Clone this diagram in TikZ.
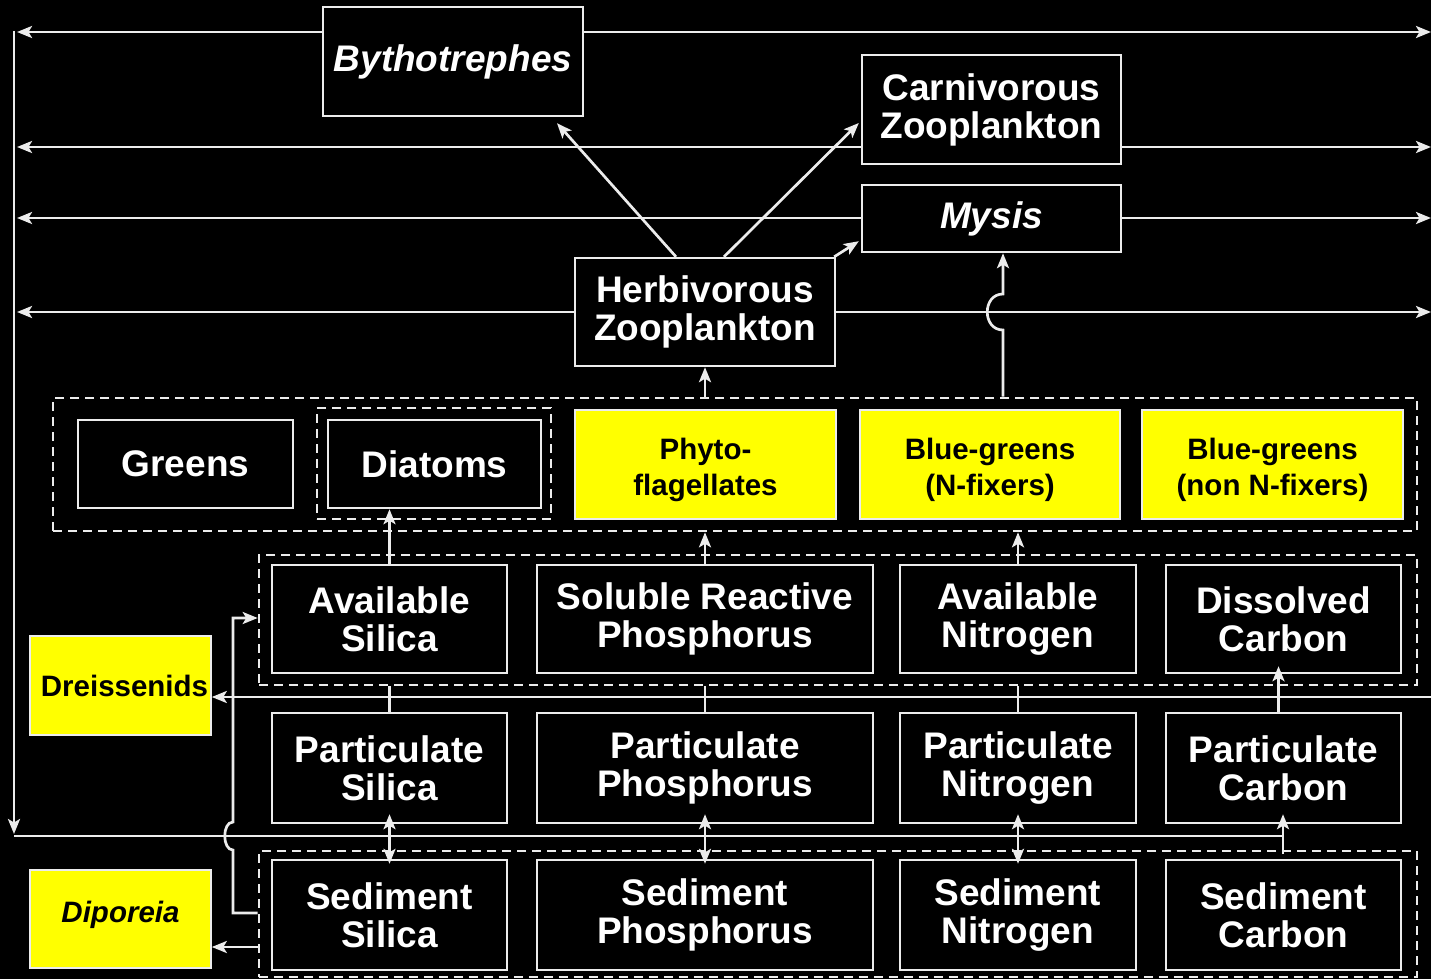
\documentclass[tikz,border=0pt]{standalone}
\usepackage{fontspec}
\setmainfont{Liberation Sans}
\usetikzlibrary{arrows.meta,calc}
\definecolor{ln}{HTML}{ECECEC}
\definecolor{yel}{HTML}{FFFF00}
\newcommand{\shiftlines}[2]{\raisebox{#1}[\height][\depth]{\begin{tabular}{@{}c@{}}#2\end{tabular}}}
\begin{document}
\begin{tikzpicture}[x=1pt,y=-1pt,
 wbox/.style={draw=ln,line width=2.4pt,fill=black,text=white,font=\bfseries\fontsize{37}{38}\selectfont,align=center,inner sep=0pt},
 ybox/.style={draw=ln,line width=1.6pt,fill=yel,text=black,font=\bfseries\fontsize{29.5}{36}\selectfont,align=center,inner sep=0pt},
 dbox/.style={draw=ln,line width=2.6pt,dash pattern=on 9pt off 6pt,inner sep=0pt},
 conn/.style={draw=ln,line width=2.7pt},
 tip/.tip={Stealth[length=15pt,width=12pt,inset=3.5pt]},
 arr/.style={conn,-tip},
 darr/.style={conn,tip-tip}]
\useasboundingbox (0,0) rectangle (1431,979);
\fill[black] (0,0) rectangle (1431,979);
% helper coordinates
\coordinate (yA) at (0,32);
\coordinate (yB) at (0,147);
\coordinate (yC) at (0,218);
\coordinate (yD) at (0,312);
\coordinate (yE) at (0,697);
\coordinate (yF) at (0,913);
\coordinate (yG) at (0,618);
\coordinate (yH) at (0,947);
\coordinate (leftx) at (17,0);
\coordinate (rightx) at (1431,0);
\coordinate (jx) at (1003,0);
\coordinate (vtop) at (14,31);
\coordinate (vbot) at (14,834);
\coordinate (busB) at (14,836);
\coordinate (busBend) at (1283,836);
% dashed groups
\node[dbox,minimum width=1364pt,minimum height=133pt] (phybox) at (735,464.5) {};
\node[dbox,minimum width=234pt,minimum height=111pt] (diabox) at (434,463.5) {};
\node[dbox,minimum width=1158pt,minimum height=130pt] (nutbox) at (838,620) {};
\node[dbox,minimum width=1158pt,minimum height=126pt] (sedbox) at (838,914) {};
% boxes
\node[wbox,minimum width=260pt,minimum height=109pt] (byth) at (453,61.5) {\itshape Bythotrephes};
\node[wbox,minimum width=259pt,minimum height=109pt] (carn) at (991.5,109.5) {Carnivorous\\Zooplankton};
\node[wbox,minimum width=259pt,minimum height=67pt] (mysis) at (991.5,218.5) {\itshape Mysis};
\node[wbox,minimum width=260pt,minimum height=108pt] (herb) at (705,312) {Herbivorous\\Zooplankton};
\node[wbox,minimum width=215pt,minimum height=88pt] (greens) at (185.5,464) {Greens};
\node[wbox,minimum width=213pt,minimum height=88pt] (diatoms) at (434.5,464) {Diatoms};
\node[ybox,minimum width=261pt,minimum height=109pt] (phyto) at (705.5,464.5) {\shiftlines{-6pt}{Phyto-\\flagellates}};
\node[ybox,minimum width=260pt,minimum height=109pt] (bgn) at (990,464.5) {\shiftlines{-6pt}{Blue-greens\\(N-fixers)}};
\node[ybox,minimum width=261pt,minimum height=109pt] (bgnn) at (1272.5,464.5) {\shiftlines{-6pt}{Blue-greens\\(non N-fixers)}};
\node[wbox,minimum width=235pt,minimum height=108pt] (avsi) at (389.5,619) {Available\\Silica};
\node[wbox,minimum width=336pt,minimum height=108pt] (srp) at (705,619) {Soluble Reactive\\Phosphorus};
\node[wbox,minimum width=236pt,minimum height=108pt] (avn) at (1018,619) {Available\\Nitrogen};
\node[wbox,minimum width=235pt,minimum height=108pt] (dc) at (1283.5,619) {Dissolved\\Carbon};
\node[wbox,minimum width=235pt,minimum height=110pt] (partsi) at (389.5,768) {Particulate\\Silica};
\node[wbox,minimum width=336pt,minimum height=110pt] (partp) at (705,768) {Particulate\\Phosphorus};
\node[wbox,minimum width=236pt,minimum height=110pt] (partn) at (1018,768) {Particulate\\Nitrogen};
\node[wbox,minimum width=235pt,minimum height=110pt] (partc) at (1283.5,768) {Particulate\\Carbon};
\node[wbox,minimum width=235pt,minimum height=110pt] (sedsi) at (389.5,915) {Sediment\\Silica};
\node[wbox,minimum width=336pt,minimum height=110pt] (sedp) at (705,915) {Sediment\\Phosphorus};
\node[wbox,minimum width=236pt,minimum height=110pt] (sedn) at (1018,915) {Sediment\\Nitrogen};
\node[wbox,minimum width=235pt,minimum height=110pt] (sedc) at (1283.5,915) {Sediment\\Carbon};
\node[ybox,minimum width=181pt,minimum height=99pt] (dreiss) at (120.5,685.5) {\shiftlines{-4pt}{\hspace*{8pt}Dreissenids}};
\node[ybox,minimum width=181pt,minimum height=98pt] (dipo) at (120.5,919) {\shiftlines{4pt}{\itshape Diporeia}};
% top horizontal flows
\draw[arr] (byth.west |- yA) -- (leftx |- yA);
\draw[arr] (byth.east |- yA) -- (rightx |- yA);
\draw[arr] (carn.west |- yB) -- (leftx |- yB);
\draw[arr] (carn.east |- yB) -- (rightx |- yB);
\draw[arr] (mysis.west |- yC) -- (leftx |- yC);
\draw[arr] (mysis.east |- yC) -- (rightx |- yC);
\draw[arr] (herb.west |- yD) -- (leftx |- yD);
\draw[arr] (herb.east |- yD) -- (rightx |- yD);
% left return bus
\draw[arr] (vtop) -- (vbot);
\draw[conn] (busB) -- (busBend);
\draw[arr,shorten >=-10pt] (partc.south -| busBend) ++(0,30) -- (partc.south -| busBend);
% grazing
\draw[arr] ($(herb.north)+(-29,0)$) -- ($(byth.south)+(104,6)$);
\draw[arr] ($(herb.north)+(19,0)$) -- ($(carn.west)+(-2,13.5)$);
\draw[arr] ($(herb.north east)+(-2,0)$) -- ($(mysis.south west)+(-2,-12)$);
\draw[arr] (phybox.north -| herb) -- (herb.south);
\draw[arr] (phybox.north -| jx) -- (1003,330) .. controls (982,330) and (982,294) .. (1003,294) -- (mysis.south -| jx);
% uptake
\draw[arr] (avsi.north) -- (avsi.north |- diatoms.south);
\draw[arr] (srp.north) -- (srp.north |- phybox.south);
\draw[arr] (avn.north) -- (avn.north |- phybox.south);
% dreissenid bus
\draw[arr] (rightx |- yE) -- (dreiss.east |- yE);
\draw[conn] (partsi.north |- nutbox.south) -- (partsi.north);
\draw[conn] (partp.north |- nutbox.south) -- (partp.north);
\draw[conn] (partn.north |- nutbox.south) -- (partn.north);
\draw[arr,shorten >=-8pt] ($(partc.north)+(-5,0)$) -- ($(dc.south)+(-5,0)$);
% particulate <-> sediment
\draw[darr,shorten <=-10pt,shorten >=-5pt] (partsi.south) -- (sedsi.north);
\draw[darr,shorten <=-10pt,shorten >=-5pt] (partp.south) -- (sedp.north);
\draw[darr,shorten <=-10pt,shorten >=-5pt] (partn.south) -- (sedn.north);
% sediment loop
\draw[arr] (sedbox.west |- yF) -- (233,913) -- (233,850) .. controls (222,850) and (222,822) .. (233,822) -- (233,618) -- (nutbox.west |- yG);
\draw[arr] (sedbox.west |- yH) -- (dipo.east |- yH);
\end{tikzpicture}
\end{document}
